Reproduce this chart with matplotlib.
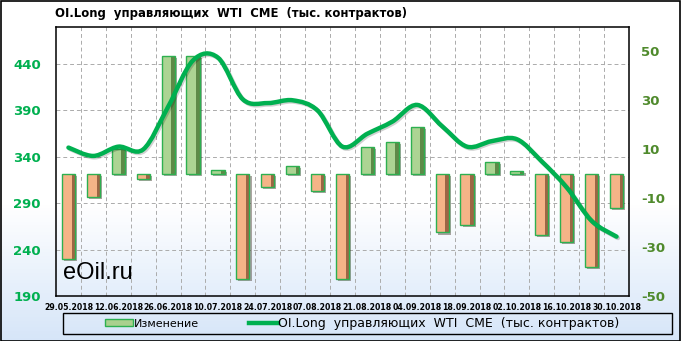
import numpy as np
import matplotlib
matplotlib.use("Agg")
import matplotlib.pyplot as plt  # noqa: E402
from matplotlib.path import Path  # noqa: E402
from matplotlib.patches import PathPatch, Rectangle, Patch  # noqa: E402
from matplotlib.lines import Line2D  # noqa: E402
import matplotlib.patheffects as pe  # noqa: E402

plt.rcParams["axes.unicode_minus"] = False

dates = ["29.05.2018", "05.06.2018", "12.06.2018", "19.06.2018", "26.06.2018",
         "03.07.2018", "10.07.2018", "17.07.2018", "24.07.2018", "31.07.2018",
         "07.08.2018", "14.08.2018", "21.08.2018", "28.08.2018", "04.09.2018",
         "11.09.2018", "18.09.2018", "25.09.2018", "02.10.2018", "09.10.2018",
         "16.10.2018", "23.10.2018", "30.10.2018"]
change = [-35, -9.5, 10, -2, 48, 48, 1.5, -43, -5.5, 3, -7, -43, 11, 13, 19,
          -24, -21, 5, 1, -25, -28, -38, -14]
oi_long = [350, 341, 351, 348, 394, 444, 447, 402, 398, 401, 390, 351, 365,
           378, 396, 373, 351, 357, 359, 335, 307, 271, 254]
left_ticks = [190, 240, 290, 340, 390, 440]
right_ticks = [-50, -30, -10, 10, 30, 50]

title = "OI.Long  управляющих  WTI  CME  (тыс. контрактов)"
line_label = "OI.Long  управляющих  WTI  CME  (тыс. контрактов)"
bar_label = "Изменение"

LINE_C = "#00B050"
W, H = 681, 341
fig = plt.figure(figsize=(W / 100, H / 100), dpi=100)

# background gradient (white -> light blue)
bg = fig.add_axes([0, 0, 1, 1], zorder=-10)
g = np.ones((100, 1, 3))
t = np.clip((np.linspace(0, 1, 100) - 0.6) / 0.4, 0, 1)[:, None]
g[:, 0, :] = (1 - t) * np.array([1, 1, 1]) + t * np.array([0.84, 0.90, 0.975])
bg.imshow(g, aspect="auto", extent=[0, 1, 0, 1], origin="upper")
bg.set_axis_off()
fig.add_artist(Rectangle((0.5 / W, 0.5 / H), 1 - 1.5 / W, 1 - 1.5 / H, transform=fig.transFigure,
                         fill=False, edgecolor="black", lw=1.2))

pos = [56 / W, 1 - 296 / H, (629 - 56) / W, (296 - 27) / H]
ax = fig.add_axes(pos)
ax.set_facecolor("none")
x = np.arange(len(dates))
ax.set_xlim(-0.5, len(dates) - 0.5)
ax.set_ylim(190, 480)
ax.set_yticks(left_ticks)
ax.set_xticks(x[::2])
ax.set_xticklabels(dates[::2], fontsize=5.6, fontweight="bold")
ax.set_xticks(x[:-1] + 0.5, minor=True)
ax.tick_params(axis="both", which="both", length=0)
ax.tick_params(axis="x", pad=5)
ax.tick_params(axis="y", pad=11, labelsize=9.5, labelcolor="#00B050")
for lab in ax.get_yticklabels():
    lab.set_fontweight("bold")
ax.grid(axis="y", which="major", ls=(0, (4, 3)), color="#ABABAB", lw=0.7)
ax.grid(axis="x", which="minor", ls=(0, (4, 3)), color="#ABABAB", lw=0.7)
for s in ax.spines.values():
    s.set_color("black")
    s.set_linewidth(1.1)

# bars on right axis
axb = ax.twinx()
axb.set_ylim(-50, 60)
axb.set_yticks(right_ticks)
axb.tick_params(axis="y", length=0, pad=9, labelsize=9.5, labelcolor="#4F8A2C")
for lab in axb.get_yticklabels():
    lab.set_fontweight("bold")
for s in axb.spines.values():
    s.set_visible(False)
bw = 0.53
vals = np.array(change)
dark = ["#5E8A48" if v > 0 else "#9C6644" for v in vals]
light = ["#ACD493" if v > 0 else "#F5B487" for v in vals]
base = axb.bar(x, vals, bw, color=dark, edgecolor="none", zorder=2)
for p in base:
    p.set_path_effects([pe.SimplePatchShadow(offset=(1.5, -1.5), alpha=0.4), pe.Normal()])
axb.bar(x - bw / 2, vals, bw * 0.74, align="edge", color=light, edgecolor="none", zorder=3)
axb.bar(x, vals, bw, color="none", edgecolor="#2DB050", lw=1.0, zorder=4)

# smoothed line on top axis (left scale)
axl = ax.twinx()
axl.set_ylim(190, 480)
axl.set_yticks([])
for s in axl.spines.values():
    s.set_visible(False)
P = np.column_stack([x, oi_long]).astype(float)
Pe = np.vstack([P[0], P, P[-1]])
verts = [P[0]]
codes = [Path.MOVETO]
for i in range(len(P) - 1):
    p0, p1, p2, p3 = Pe[i], Pe[i + 1], Pe[i + 2], Pe[i + 3]
    verts += [p1 + (p2 - p0) / 6, p2 - (p3 - p1) / 6, p2]
    codes += [Path.CURVE4] * 3
curve = PathPatch(Path(verts, codes), facecolor="none", edgecolor=LINE_C, lw=3.2,
                  capstyle="round", zorder=5)
curve.set_path_effects([pe.SimpleLineShadow(offset=(1, -1), alpha=0.18), pe.Normal()])
axl.add_patch(curve)

# texts
fig.text(55 / W, 1 - 14 / H, title, fontsize=8.4, fontweight="bold", va="center", ha="left")
fig.text(63 / W, 1 - 273 / H, "eOil.ru", fontsize=17, family="Liberation Sans",
         va="center", ha="left")

# legend
fig.add_artist(Rectangle((63 / W, 1 - 334 / H), (672 - 63) / W, 21 / H, transform=fig.transFigure,
                         fill=False, edgecolor="black", lw=1.0))
handles = [Patch(facecolor="#A9D08E", edgecolor="#2DB050", lw=1.0),
           Line2D([], [], color=LINE_C, lw=3.2)]
leg = fig.legend(handles, [bar_label, line_label], loc="center",
                 bbox_to_anchor=(362 / W, 1 - 323.5 / H),
                 ncol=2, frameon=False, fontsize=8.5, handlelength=2.4, handleheight=0.55,
                 handletextpad=0.0, columnspacing=4.3)
leg.get_texts()[0].set_fontsize(8.0)
leg.get_texts()[1].set_fontsize(9.0)

fig.savefig("out.png", dpi=100)
